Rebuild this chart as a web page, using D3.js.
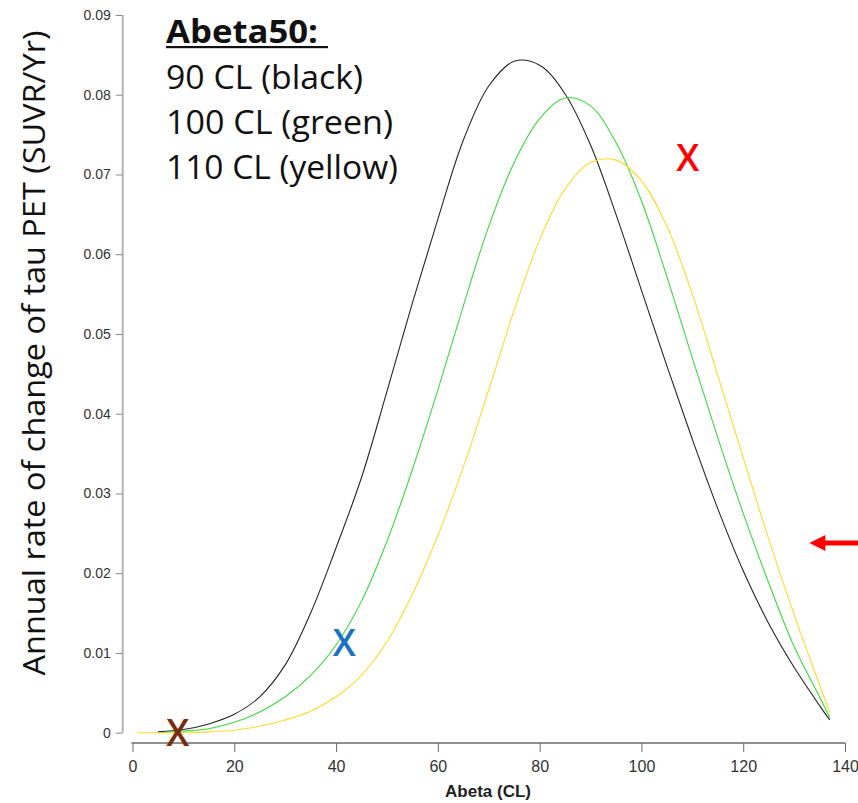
<!DOCTYPE html>
<html>
<head>
<meta charset="utf-8">
<script src="https://cdn.jsdelivr.net/npm/d3@7"></script>
<style>
  html, body { margin: 0; padding: 0; background: #fff; }
  svg { display: block; }
</style>
</head>
<body>
<svg id="chart" width="858" height="803"></svg>
<script>
// ---- data ----
const abeta = [1, 5, 10, 15, 20, 25, 30, 35, 40, 45, 50, 55, 60, 65, 70, 75, 80, 85, 90, 95, 100, 105, 110, 115, 120, 125, 130, 135, 137];
const black = [null, 0.0001, 0.0004, 0.0011, 0.0023, 0.0045, 0.0085, 0.0150, 0.0232, 0.0320, 0.0428, 0.0539, 0.0644, 0.0743, 0.0811, 0.0842, 0.0837, 0.0801, 0.0737, 0.0650, 0.0555, 0.0460, 0.0368, 0.0281, 0.0203, 0.0137, 0.0082, 0.0034, 0.0016];
const green = [null, 0.0000, 0.0002, 0.0005, 0.0013, 0.0026, 0.0045, 0.0072, 0.0110, 0.0165, 0.0240, 0.0330, 0.0430, 0.0535, 0.0635, 0.0715, 0.0770, 0.0796, 0.0786, 0.0740, 0.0667, 0.0572, 0.0470, 0.0370, 0.0275, 0.0188, 0.0108, 0.0045, 0.0019];
const yellow = [0.0000, 0.0000, 0.0000, 0.0001, 0.0003, 0.0008, 0.0016, 0.0027, 0.0045, 0.0072, 0.0114, 0.0174, 0.0247, 0.0333, 0.0430, 0.0530, 0.0618, 0.0682, 0.0715, 0.0718, 0.0692, 0.0635, 0.0550, 0.0448, 0.0345, 0.0243, 0.0148, 0.0060, 0.0025];
const seriesNames = ["90 CL (black)", "100 CL (green)", "110 CL (yellow)"];
const seriesColors = ["#262626", "#3cd93c", "#ffd92a"];
const xTicks = [0, 20, 40, 60, 80, 100, 120, 140];
const yTicks = [0, 0.01, 0.02, 0.03, 0.04, 0.05, 0.06, 0.07, 0.08, 0.09];
const legendTitle = "Abeta50:";
const xTitle = "Abeta (CL)";
const yTitle = "Annual rate of change of tau PET (SUVR/Yr)";
// annotation marks: [abeta, value, colour]
const markX = [[8.9, 0.0, "#7a2c0c"], [41.6, 0.01125, "#1a73c2"], [109.1, 0.0721, "#ff0000"]];
const arrowTip = [133.0, 0.0238];

// ---- drawing ----
const svg = d3.select("#chart");
const x = d3.scaleLinear().domain([0, 140]).range([132.5, 845]);
const y = d3.scaleLinear().domain([0, 0.09]).range([732.7, 15]);

// y axis
const yAxisG = svg.append("g").attr("transform", "translate(122.7,0)")
  .call(d3.axisLeft(y).tickValues(yTicks).tickSize(7).tickPadding(5)
    .tickFormat(d => d === 0 ? "0" : d3.format(".2f")(d)));
yAxisG.select(".domain").attr("stroke", "#b3b3b3").attr("stroke-width", 2)
  .attr("d", `M0,${y(0.09)}V${y(0)}`);
yAxisG.selectAll(".tick line").attr("stroke", "#8a8a8a");
yAxisG.selectAll(".tick text").attr("fill", "#333").style("font-family", "Liberation Sans, Arial, sans-serif").style("font-size", "14px");

// x axis
const xAxisG = svg.append("g").attr("transform", "translate(0,743)")
  .call(d3.axisBottom(x).tickValues(xTicks).tickSize(9).tickPadding(9).tickFormat(d3.format("d")));
xAxisG.select(".domain").attr("stroke", "#6b6b6b").attr("stroke-width", 1.3)
  .attr("d", `M${x(0) - 1},0H${x(140)}`);
xAxisG.selectAll(".tick line").attr("stroke", "#6b6b6b");
xAxisG.selectAll(".tick text").attr("fill", "#333").style("font-family", "Liberation Sans, Arial, sans-serif").style("font-size", "16px");

// lines
const line = d3.line()
  .defined(d => d[1] !== null)
  .x(d => x(d[0])).y(d => y(d[1]))
  .curve(d3.curveCatmullRom.alpha(0.5));
[black, green, yellow].forEach((vals, i) => {
  const pts = abeta.map((a, j) => [a, vals[j]]);
  svg.append("path").datum(pts)
    .attr("fill", "none").attr("stroke", seriesColors[i]).attr("stroke-width", 1.1)
    .attr("d", line);
});

// axis titles
svg.append("text").attr("x", 488).attr("y", 797).attr("text-anchor", "middle")
  .style("font-family", "Liberation Sans, Arial, sans-serif").style("font-weight", "bold")
  .style("font-size", "17px").attr("fill", "#222").text(xTitle);
svg.append("text").attr("transform", "translate(45,353) rotate(-90)").attr("text-anchor", "middle")
  .style("font-family", "Open Sans, sans-serif").style("font-size", "31px").attr("fill", "#111")
  .attr("textLength", 645).attr("lengthAdjust", "spacingAndGlyphs").text(yTitle);

// legend text block
const lg = svg.append("g").style("font-family", "Open Sans, sans-serif").style("font-size", "32px").attr("fill", "#111");
lg.append("text").attr("x", 166).attr("y", 43).style("font-weight", "bold")
  .attr("textLength", 152).attr("lengthAdjust", "spacingAndGlyphs").text(legendTitle);
lg.append("rect").attr("x", 166).attr("y", 46).attr("width", 162).attr("height", 2.2).attr("fill", "#111");
const legW = [197, 227, 232];
seriesNames.forEach((s, i) => {
  lg.append("text").attr("x", 166).attr("y", 89 + i * 45)
    .attr("textLength", legW[i]).attr("lengthAdjust", "spacingAndGlyphs").text(s);
});

// X markers
markX.forEach(m => {
  svg.append("text").attr("x", x(m[0])).attr("y", y(m[1]) + 13).attr("text-anchor", "middle")
    .style("font-family", "Open Sans, sans-serif").style("font-weight", "600").style("font-size", "37px")
    .attr("fill", m[2]).text("X");
});

// red arrow
const ax = x(arrowTip[0]), ay = y(arrowTip[1]);
svg.append("path")
  .attr("d", `M${ax},${ay} L${ax + 16},${ay - 8} L${ax + 16},${ay - 2.5} L858,${ay - 2.5} L858,${ay + 2.5} L${ax + 16},${ay + 2.5} L${ax + 16},${ay + 8} Z`)
  .attr("fill", "#ff0000");
</script>
</body>
</html>
